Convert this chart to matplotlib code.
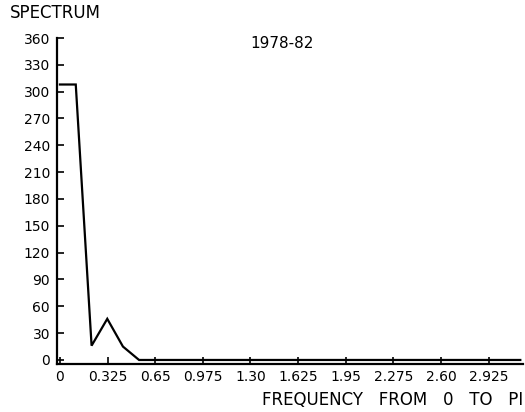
import numpy as np
import matplotlib
matplotlib.use("Agg")
import matplotlib.pyplot as plt

# Data
freq = [0.0, 0.108, 0.216, 0.323, 0.43, 0.54, 3.1416]
spectrum = [308, 308, 16, 46, 15, 0, 0]

xticks = [0, 0.325, 0.65, 0.975, 1.30, 1.625, 1.95, 2.275, 2.60, 2.925]
xticklabels = ['0', '0.325', '0.65', '0.975', '1.30', '1.625', '1.95', '2.275', '2.60', '2.925']
yticks = [0, 30, 60, 90, 120, 150, 180, 210, 240, 270, 300, 330, 360]
yticklabels = [str(v) for v in yticks]

plt.rcParams['font.family'] = ['DejaVu Sans']

fig = plt.figure(figsize=(5.25, 4.12), dpi=100)
ax = fig.add_axes([57/525, 48/412, 466/525, 326/412])

ax.plot(freq, spectrum, color='black', lw=1.6, solid_joinstyle='miter')

ax.set_xlim(-0.02, 3.16)
ax.set_ylim(-4.5, 360)

for s in ['top', 'right']:
    ax.spines[s].set_visible(False)
for s in ['left', 'bottom']:
    ax.spines[s].set_linewidth(1.6)

ax.set_xticks(xticks)
ax.set_xticklabels(xticklabels)
ax.set_yticks(yticks)
ax.set_yticklabels(yticklabels)
ax.tick_params(axis='both', direction='in', length=5, width=1.2, labelsize=10, colors='black')
ax.tick_params(axis='y', pad=5)
ax.tick_params(axis='x', pad=4)

fig.text(10/525, 1 - 13/412, 'SPECTRUM', fontsize=12, ha='left', va='center')
fig.text(282/525, 1 - 43/412, '1978-82', fontsize=11, ha='center', va='center')
fig.text(523/525, 1 - 400/412, 'FREQUENCY   FROM   0   TO   PI', fontsize=12, ha='right', va='center')

fig.savefig('out.png', dpi=100)
